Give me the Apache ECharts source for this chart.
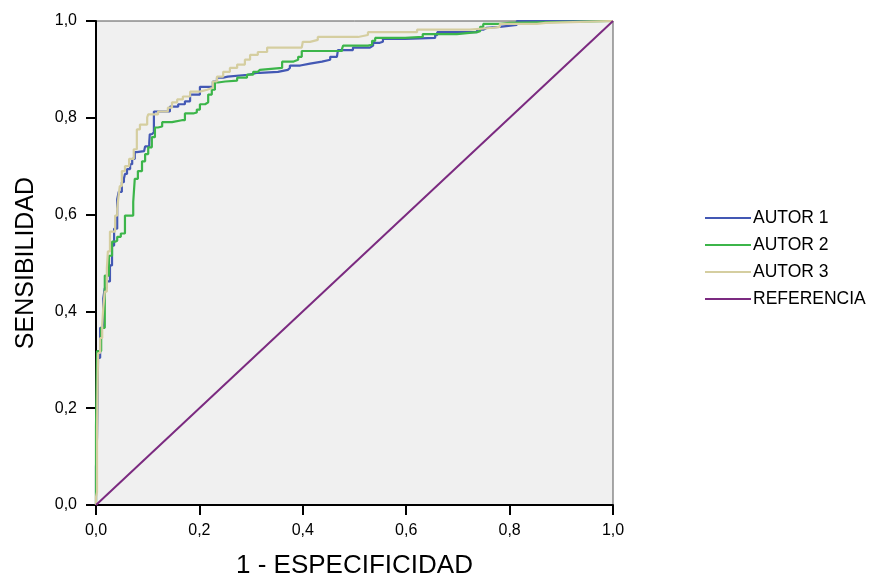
<!DOCTYPE html>
<html>
<head>
<meta charset="utf-8">
<script src="https://cdn.jsdelivr.net/npm/echarts@6/dist/echarts.min.js"></script>
<style>html,body{margin:0;padding:0;background:#fff;}#c{width:874px;height:584px;}</style>
</head>
<body>
<div id="c"></div>
<script>
var seriesNames = ['AUTOR 1', 'AUTOR 2', 'AUTOR 3', 'REFERENCIA'];
var xTitle = '1 - ESPECIFICIDAD';
var yTitle = 'SENSIBILIDAD';

var autor1 = [
[0,0],[0,0.078],[0.002,0.078],[0.002,0.140],[0.004,0.140],[0.004,0.304],[0.008,0.304],[0.008,0.366],
[0.014,0.366],[0.014,0.427],[0.017,0.448],[0.021,0.462],[0.027,0.495],[0.031,0.536],[0.035,0.571],
[0.041,0.632],[0.044,0.647],[0.050,0.667],[0.054,0.674],[0.056,0.684],[0.060,0.694],[0.066,0.704],
[0.070,0.715],[0.075,0.729],[0.079,0.731],[0.093,0.731],[0.095,0.741],[0.103,0.749],[0.104,0.766],
[0.108,0.770],[0.112,0.813],[0.137,0.813],[0.143,0.823],[0.159,0.828],[0.172,0.834],[0.182,0.848],
[0.201,0.864],[0.221,0.864],[0.226,0.875],[0.234,0.883],[0.246,0.885],[0.255,0.889],[0.294,0.893],
[0.313,0.893],[0.317,0.895],[0.352,0.899],[0.371,0.903],[0.375,0.908],[0.395,0.912],[0.414,0.916],
[0.437,0.920],[0.453,0.926],[0.466,0.930],[0.468,0.940],[0.497,0.945],[0.530,0.949],[0.536,0.955],
[0.549,0.957],[0.555,0.963],[0.598,0.965],[0.656,0.971],[0.660,0.977],[0.698,0.977],[0.737,0.982],
[0.749,0.986],[0.756,0.988],[0.781,0.992],[0.814,1.0],[1,1]
];

var autor2 = [
[0,0],[0,0.160],[0.002,0.160],[0.002,0.318],[0.010,0.366],[0.017,0.407],[0.017,0.474],[0.025,0.474],
[0.025,0.515],[0.031,0.515],[0.031,0.544],[0.037,0.546],[0.041,0.554],[0.048,0.561],[0.056,0.577],
[0.056,0.598],[0.072,0.598],[0.072,0.626],[0.075,0.674],[0.081,0.690],[0.089,0.710],[0.095,0.725],
[0.101,0.739],[0.108,0.760],[0.114,0.780],[0.120,0.782],[0.128,0.791],[0.147,0.791],[0.149,0.795],
[0.166,0.795],[0.172,0.809],[0.188,0.811],[0.195,0.817],[0.201,0.828],[0.211,0.832],[0.217,0.848],
[0.224,0.858],[0.230,0.873],[0.236,0.875],[0.250,0.877],[0.273,0.883],[0.292,0.889],[0.304,0.895],
[0.313,0.899],[0.317,0.903],[0.360,0.903],[0.360,0.916],[0.381,0.920],[0.391,0.926],[0.398,0.938],
[0.476,0.943],[0.478,0.949],[0.526,0.951],[0.534,0.959],[0.540,0.965],[0.598,0.967],[0.632,0.973],
[0.698,0.977],[0.737,0.979],[0.743,0.988],[0.749,0.994],[0.781,0.996],[0.800,1.0],[1,1]
];

var autor3 = [
[0,0],[0,0.016],[0.002,0.027],[0.002,0.154],[0.004,0.154],[0.004,0.314],[0.008,0.345],[0.012,0.372],
[0.014,0.407],[0.017,0.441],[0.021,0.489],[0.023,0.524],[0.027,0.565],[0.033,0.565],[0.037,0.598],
[0.041,0.612],[0.043,0.632],[0.046,0.659],[0.050,0.690],[0.056,0.700],[0.064,0.715],[0.073,0.735],
[0.079,0.776],[0.085,0.786],[0.099,0.801],[0.101,0.807],[0.120,0.813],[0.133,0.813],[0.139,0.821],
[0.147,0.832],[0.157,0.838],[0.168,0.844],[0.182,0.854],[0.201,0.858],[0.215,0.862],[0.226,0.875],
[0.234,0.885],[0.246,0.895],[0.259,0.903],[0.273,0.910],[0.288,0.920],[0.298,0.930],[0.313,0.936],
[0.331,0.945],[0.398,0.945],[0.400,0.957],[0.414,0.961],[0.429,0.967],[0.507,0.971],[0.526,0.977],
[0.621,0.982],[0.723,0.986],[0.768,0.988],[0.781,0.994],[0.853,0.996],[0.870,1.0],[1,1]
];

var referencia = [[0,0],[1,1]];

var colors = ['#4358b4', '#3cb54a', '#d5cea0', '#7b2a80'];

function fmt(v){ return v.toFixed(1).replace('.', ','); }

var chart = echarts.init(document.getElementById('c'), null, {renderer:'canvas'});
var axisCommon = {
  type:'value', min:0, max:1, interval:0.2,
  splitLine:{show:false},
  axisLine:{show:true, lineStyle:{color:'#000', width:2}},
  axisTick:{show:true, length:10, lineStyle:{color:'#000', width:2}},
  axisLabel:{formatter:fmt, color:'#000', fontSize:16, fontFamily:'Liberation Sans'},
  nameLocation:'middle'
};
chart.setOption({
  animation:false,
  backgroundColor:'#fff',
  grid:{left:96, right:261, top:21, bottom:76, show:true, backgroundColor:'#f0f0f0', borderColor:'#555', borderWidth:1},
  xAxis:Object.assign({}, axisCommon, {name:xTitle, nameGap:48,
    nameTextStyle:{color:'#000', fontSize:26, fontFamily:'Liberation Sans'},
    axisLabel:Object.assign({}, axisCommon.axisLabel, {margin:18})}),
  yAxis:Object.assign({}, axisCommon, {name:yTitle, nameGap:57,
    nameTextStyle:{color:'#000', fontSize:25, fontFamily:'Liberation Sans'},
    axisLabel:Object.assign({}, axisCommon.axisLabel, {margin:19})}),
  legend:{
    orient:'vertical', left:700, top:203, icon:'rect', itemWidth:46, itemHeight:2, itemGap:7,
    textStyle:{color:'#000', fontSize:17.5, fontFamily:'Liberation Sans', lineHeight:20, padding:[0,0,0,-3]},
    data:seriesNames
  },
  series:[
    {name:seriesNames[0], type:'line', step:'end', data:autor1, symbol:'none', lineStyle:{color:colors[0], width:2.2}, itemStyle:{color:colors[0]}},
    {name:seriesNames[1], type:'line', step:'end', data:autor2, symbol:'none', lineStyle:{color:colors[1], width:2.2}, itemStyle:{color:colors[1]}},
    {name:seriesNames[2], type:'line', step:'end', data:autor3, symbol:'none', lineStyle:{color:colors[2], width:2.2}, itemStyle:{color:colors[2]}},
    {name:seriesNames[3], type:'line', data:referencia, symbol:'none', lineStyle:{color:colors[3], width:2}, itemStyle:{color:colors[3]}}
  ]
});
</script>
</body>
</html>
